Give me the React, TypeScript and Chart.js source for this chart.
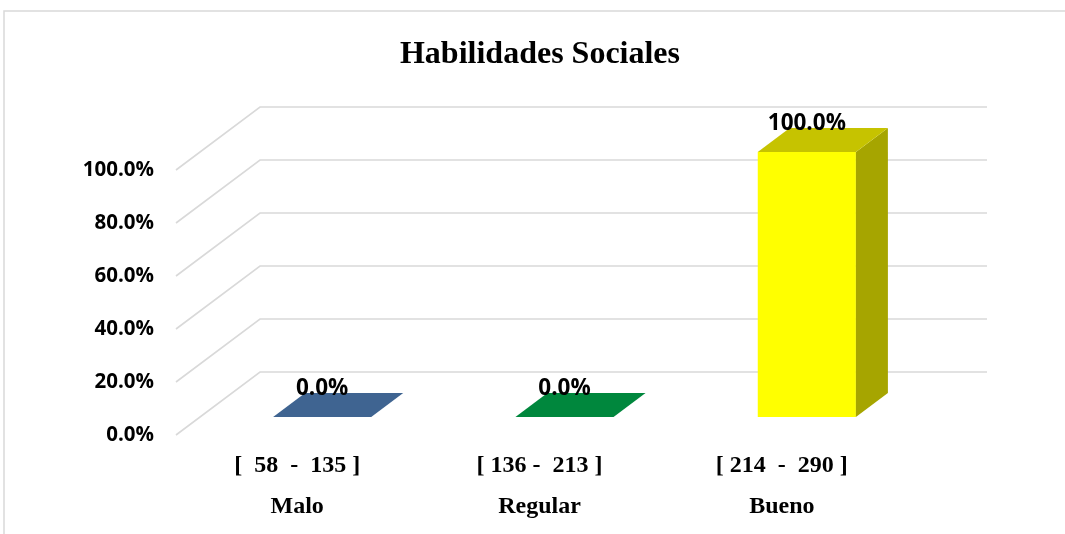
import React, { useEffect, useRef } from "react";
import { Chart, registerables } from "chart.js";

Chart.register(...registerables);

const titleText = "Habilidades Sociales";
const categories = ["Malo", "Regular", "Bueno"];
const ranges = ["[  58  -  135 ]", "[ 136 -  213 ]", "[ 214  -  290 ]"];
const values = [0, 0, 1];
const yTicks = [0, 0.2, 0.4, 0.6, 0.8, 1];
const frontColors = ["#41679A", "#00883E", "#FFFF00"];
const topColors = ["#3F6491", "#00873D", "#C6C300"];
const sideColors = ["#32507A", "#006B30", "#A6A500"];

const BAR_DX = 32;
const BAR_DY = -24;
const FRONT_DX = -25;
const FRONT_DY = 18;
const BACK_DX = 59;
const BACK_DY = -45;
const GRID = "#d9d9d9";
const SANS = "'Open Sans', 'Noto Sans', sans-serif";
const SERIF = "'Liberation Serif', 'Times New Roman', serif";

const pct = (v: number) => (v * 100).toFixed(1) + "%";

const threeD = {
  id: "threeD",
  beforeDatasetsDraw(chart: any) {
    const ctx = chart.ctx;
    const { left, right } = chart.chartArea;
    const y = chart.scales.y;
    ctx.save();
    ctx.strokeStyle = "#d9d9d9";
    ctx.lineWidth = 1.5;
    ctx.strokeRect(4, 11, 1200, 700);
    ctx.fillStyle = "#000";
    ctx.font = `bold 32px ${SERIF}`;
    ctx.textAlign = "center";
    ctx.textBaseline = "alphabetic";
    ctx.fillText(titleText, 540, 63);
    ctx.strokeStyle = GRID;
    ctx.lineWidth = 1.6;
    for (const t of yTicks) {
      const yb = y.getPixelForValue(t);
      ctx.beginPath();
      ctx.moveTo(left + FRONT_DX, yb + FRONT_DY);
      ctx.lineTo(left + BACK_DX, yb + BACK_DY);
      ctx.lineTo(right + BACK_DX, yb + BACK_DY);
      ctx.stroke();
    }
    ctx.fillStyle = "#000";
    ctx.font = `bold 20.5px ${SANS}`;
    ctx.textAlign = "right";
    ctx.textBaseline = "middle";
    for (const t of yTicks) {
      const yb = y.getPixelForValue(t);
      ctx.fillText(pct(t), left - 47, yb + FRONT_DY);
    }
    ctx.restore();
  },
  afterDatasetsDraw(chart: any) {
    const ctx = chart.ctx;
    const meta = chart.getDatasetMeta(0);
    ctx.save();
    meta.data.forEach((el: any, i: number) => {
      const w = el.width;
      const l = el.x - w / 2;
      const r = el.x + w / 2;
      const top = el.y;
      const bot = el.base;
      if (bot - top > 0.5) {
        ctx.fillStyle = sideColors[i];
        ctx.beginPath();
        ctx.moveTo(r, top);
        ctx.lineTo(r + BAR_DX, top + BAR_DY);
        ctx.lineTo(r + BAR_DX, bot + BAR_DY);
        ctx.lineTo(r, bot);
        ctx.closePath();
        ctx.fill();
      }
      ctx.fillStyle = topColors[i];
      ctx.beginPath();
      ctx.moveTo(l, top);
      ctx.lineTo(r, top);
      ctx.lineTo(r + BAR_DX, top + BAR_DY);
      ctx.lineTo(l + BAR_DX, top + BAR_DY);
      ctx.closePath();
      ctx.fill();
    });
    ctx.fillStyle = "#000";
    ctx.font = `bold 22.5px ${SANS}`;
    ctx.textAlign = "center";
    ctx.textBaseline = "middle";
    meta.data.forEach((el: any, i: number) => {
      ctx.fillText(pct(values[i]), el.x, el.y - 28);
    });
    ctx.font = `bold 24px ${SERIF}`;
    meta.data.forEach((el: any, i: number) => {
      ctx.fillText(ranges[i], el.x + FRONT_DX, 466);
      ctx.fillText(categories[i], el.x + FRONT_DX, 507);
    });
    ctx.restore();
  },
};

export default function App() {
  const ref = useRef<HTMLCanvasElement | null>(null);
  useEffect(() => {
    document.body.style.margin = "0";
    const chart = new Chart(ref.current!, {
      type: "bar",
      data: {
        labels: categories,
        datasets: [
          {
            data: values,
            backgroundColor: frontColors,
            borderWidth: 0,
            categoryPercentage: 1,
            barPercentage: 0.405,
          },
        ],
      },
      options: {
        animation: false,
        responsive: false,
        devicePixelRatio: 1,
        layout: { padding: { left: 201, right: 137, top: 152, bottom: 117 } },
        plugins: { legend: { display: false }, title: { display: false }, tooltip: { enabled: false } },
        scales: {
          x: { display: false },
          y: { display: false, min: 0, max: 1 },
        },
      },
      plugins: [threeD],
    });
    return () => chart.destroy();
  }, []);
  return (
    <div style={{ position: "absolute", left: 0, top: 0, width: 1065, height: 534, background: "#fff" }}>
      <canvas ref={ref} width={1065} height={534} />
    </div>
  );
}
